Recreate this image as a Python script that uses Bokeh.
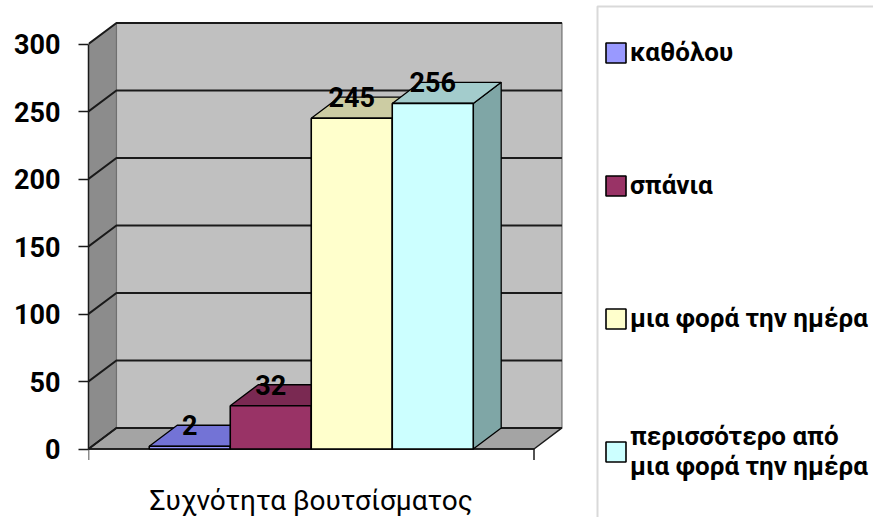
from bokeh.plotting import figure
from bokeh.models import Range1d, FixedTicker, Legend, LegendItem, ColumnDataSource, BoxAnnotation
from bokeh.core.properties import value
from bokeh.embed import file_html
from bokeh.resources import INLINE

# ---- data ----
categories = ["καθόλου", "σπάνια", "μια φορά την ημέρα", "περισσότερο από\nμια φορά την ημέρα"]
counts = [2, 32, 245, 256]
axis_title = "Συχνότητα βουτσίσματος"
y_ticks = [0, 50, 100, 150, 200, 250, 300]

# ---- styles ----
front_colors = ["#9999FF", "#993366", "#FFFFCC", "#CCFFFF"]
top_colors = ["#7373D6", "#7A2952", "#CCCCA3", "#A3CCCC"]
side_colors = ["#5C5C99", "#5C1F3D", "#99997A", "#7FA6A6"]
FONT = "Roboto"
BAR_W = 1.0
START = 0.75
PLANE_W = 5.5
DX = 0.345
DY = 15.6
Y_MAX = y_ticks[-1]
PX_PER_Y = 1.35          # pixels per y unit
PX_PER_X = 81.0          # pixels per x unit
LEFT_PX = 88
FRAME_W = 873 - LEFT_PX
FRAME_H = 517
ZERO_PX = 448.5          # pixel row of y = 0 from top

def px_to_x(px):
    return (px - LEFT_PX) / PX_PER_X

def px_to_y(py):
    return (ZERO_PX - py) / PX_PER_Y

p = figure(width=873, height=517,
           x_range=Range1d(0, FRAME_W / PX_PER_X),
           y_range=Range1d(px_to_y(FRAME_H), px_to_y(0)),
           output_backend="svg", toolbar_location=None, x_axis_location=None,
           min_border_left=LEFT_PX, min_border_right=0, min_border_top=0, min_border_bottom=0)
p.xgrid.visible = False
p.ygrid.visible = False
p.outline_line_color = None
p.background_fill_color = "white"
p.border_fill_color = "white"

# y axis
p.yaxis.ticker = FixedTicker(ticks=y_ticks)
p.yaxis.bounds = (0, Y_MAX)
p.yaxis.major_tick_out = 10
p.yaxis.major_tick_in = 0
p.yaxis.minor_tick_line_color = None
p.yaxis.major_label_standoff = 18
p.yaxis.major_label_text_font = FONT
p.yaxis.major_label_text_font_style = "bold"
p.yaxis.major_label_text_font_size = "27px"
p.yaxis.major_label_text_color = "black"
p.yaxis.axis_line_color = "#1a1a1a"
p.yaxis.axis_line_width = 1.5
p.yaxis.major_tick_line_color = "#1a1a1a"
p.yaxis.major_tick_line_width = 1.5

# walls
p.patch(x=[0, DX, DX, 0], y=[0, DY, Y_MAX + DY, Y_MAX], fill_color="#8C8C8C", line_color=None)
p.quad(left=DX, right=PLANE_W + DX, bottom=DY, top=Y_MAX + DY,
       fill_color="#C0C0C0", line_color="#707070", line_width=1.2)
p.patch(x=[0, PLANE_W, PLANE_W + DX, DX], y=[0, 0, DY, DY],
        fill_color="#A4A4A4", line_color="#1a1a1a", line_width=1.5)
p.multi_line(xs=[[0, DX, PLANE_W + DX] for v in y_ticks],
             ys=[[v, v + DY, v + DY] for v in y_ticks],
             line_color="#1a1a1a", line_width=2)

# category axis (front edge of the floor) with end ticks
tick_len = 11 / PX_PER_Y
p.segment(x0=[0, PLANE_W], y0=[0, 0], x1=[0, PLANE_W], y1=[-tick_len, -tick_len],
          line_color="#1a1a1a", line_width=1.5)
p.segment(x0=[0], y0=[0], x1=[PLANE_W], y1=[0], line_color="#1a1a1a", line_width=1.5)
p.text(x=[PLANE_W / 2], y=[px_to_y(500)], text=[axis_title],
       text_align="center", text_baseline="alphabetic",
       text_font=value(FONT), text_font_style="normal", text_font_size="28px", text_color="black")

# bars
fronts = []
for i, c in enumerate(counts):
    x0 = START + i * BAR_W
    x1 = x0 + BAR_W
    p.patch(x=[x1, x1 + DX, x1 + DX, x1], y=[0, DY, c + DY, c],
            fill_color=side_colors[i], line_color="black", line_width=1.3)
    p.patch(x=[x0, x1, x1 + DX, x0 + DX], y=[c, c, c + DY, c + DY],
            fill_color=top_colors[i], line_color="black", line_width=1.3)
    r = p.quad(left=x0, right=x1, bottom=0, top=c,
               fill_color=front_colors[i], line_color="black", line_width=1.6)
    fronts.append(r)

lab = ColumnDataSource(dict(
    x=[START + i * BAR_W + BAR_W / 2 for i in range(len(counts))],
    y=[c + DY for c in counts],
    t=[str(c) for c in counts]))
p.text(x="x", y="y", text="t", source=lab, text_align="center", text_baseline="alphabetic",
       text_font=value(FONT), text_font_style="bold", text_font_size="27px", text_color="black")

# legend
LEG_LEFT = 597
LEG_TOP = 6
LEG_PAD = 7
ROW_H = 78
ROW_PITCH = 133
leg_h = 2 * LEG_PAD + 4 * ROW_H + 3 * (ROW_PITCH - ROW_H)
legend = Legend(items=[LegendItem(label=categories[i], renderers=[fronts[i]]) for i in range(len(categories))],
                location=(LEG_LEFT - LEFT_PX + 6, FRAME_H - LEG_TOP - leg_h + 7))
legend.label_text_font = FONT
legend.label_text_font_style = "bold"
legend.label_text_font_size = "26px"
legend.label_text_color = "black"
legend.glyph_width = 25
legend.glyph_height = 25
legend.label_height = ROW_H
legend.label_standoff = 2
legend.spacing = ROW_PITCH - ROW_H
legend.padding = LEG_PAD
legend.border_line_color = None
legend.background_fill_color = "white"
legend.background_fill_alpha = 1
p.add_layout(legend)

# legend frame (runs past the right and bottom edges of the picture)
p.add_layout(BoxAnnotation(left=px_to_x(LEG_LEFT), right=px_to_x(900),
                           top=px_to_y(LEG_TOP), bottom=px_to_y(560),
                           fill_color=None, line_color="#808080", line_width=2))

open("out.html", "w").write(file_html(p, INLINE))
